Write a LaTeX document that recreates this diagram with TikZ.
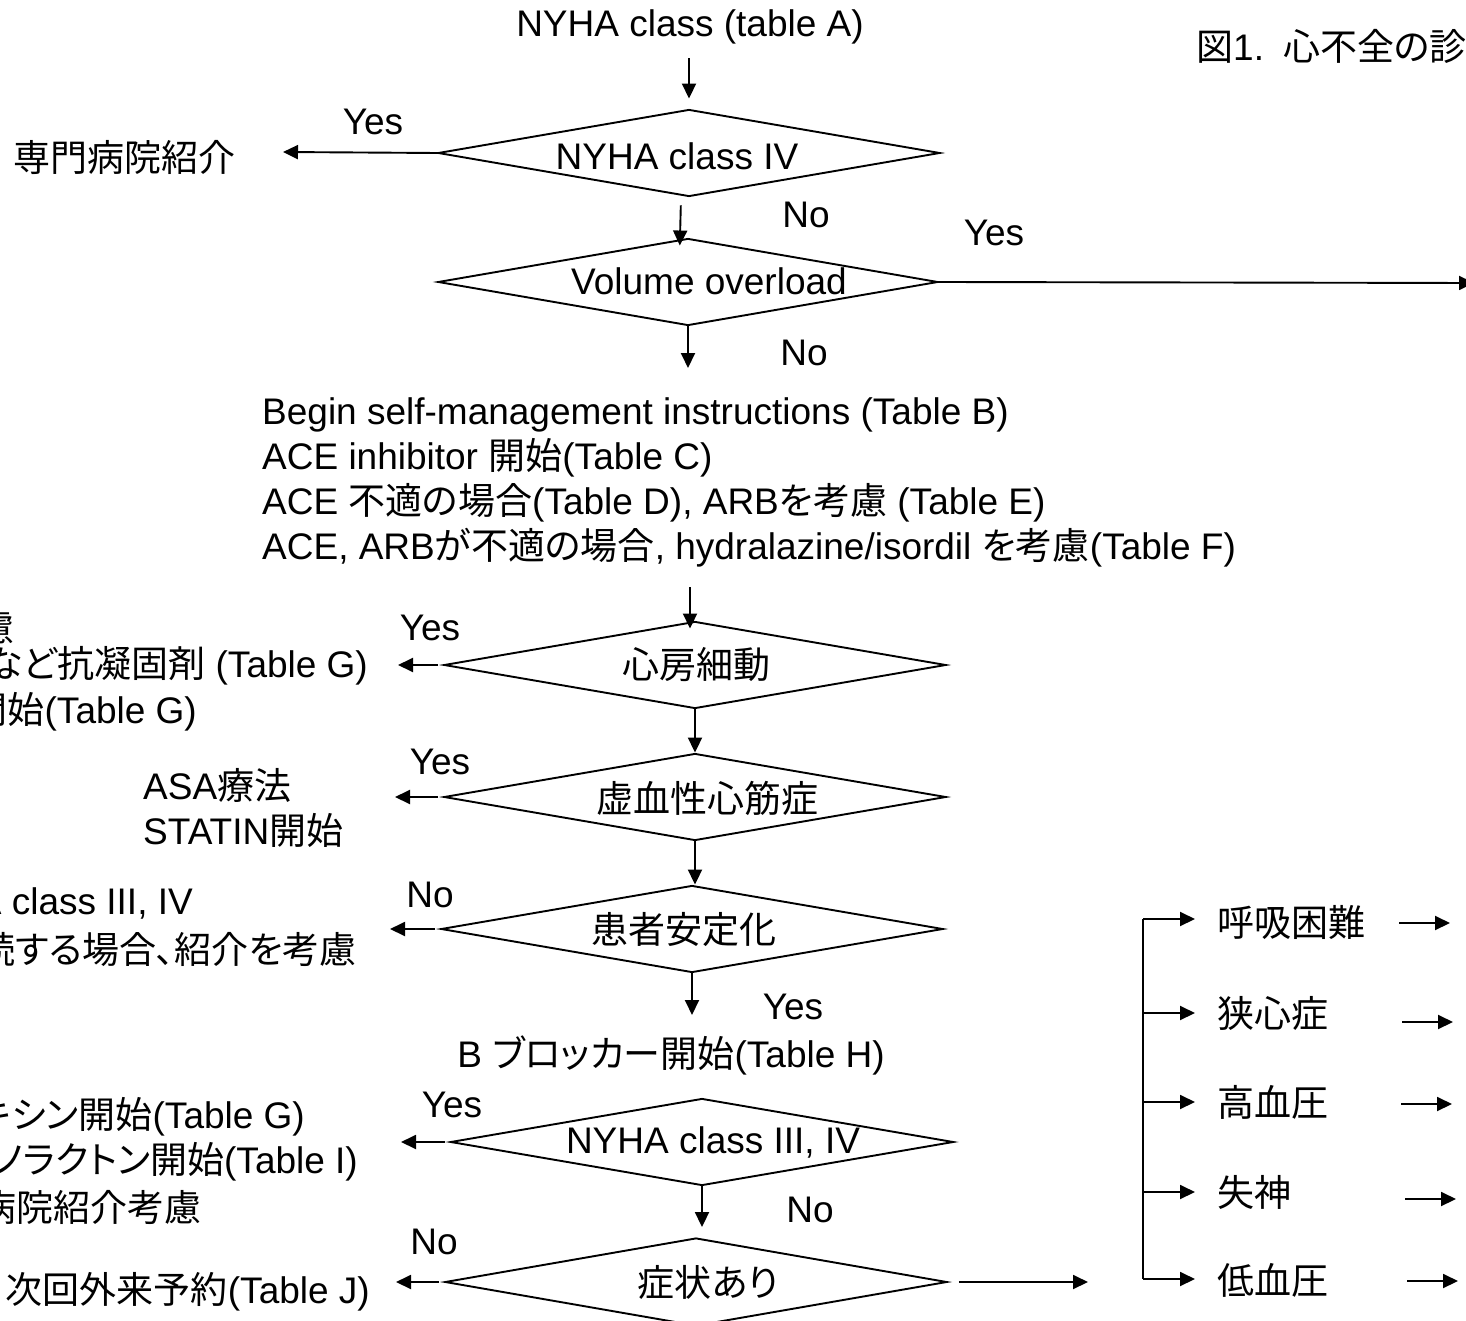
\documentclass[tikz,border=0pt]{standalone}
\usepackage{fontspec}
\setmainfont{Liberation Sans}
\newfontfamily\jp{Noto Sans CJK JP}[RawFeature=+palt]
\usetikzlibrary{arrows.meta,shapes.geometric,calc}
\begin{document}
\begin{tikzpicture}[x=1pt,y=-1pt,
  txt/.style={inner sep=0pt, font=\fontsize{37}{45}\selectfont},
  dia/.style={draw, diamond, line width=1.9pt, inner sep=0pt, minimum width=502pt, minimum height=87pt},
  arr/.style={draw, line width=1.9pt, -{Triangle[length=15pt,width=14pt]}},
  ln/.style={draw, line width=1.9pt}]
\path[use as bounding box, clip] (0,0) rectangle (1466,1321);

% title and top
\node[txt] (top) at (690,27) {NYHA class (table A)};
\node[txt, anchor=west] (ttl) at (1196,46) {{\jp 図}1.\hspace{19pt}{\jp 心不全の診}};

% diamonds
\node[dia] (d1) at (689,153) {};
\node[dia, minimum width=500pt] (d2) at (688,282) {};
\node[dia] (d3) at (695,665) {};
\node[dia] (d4) at (695,797) {};
\node[dia] (d5) at (692,929) {};
\node[dia, minimum width=503pt] (d6) at (702,1142) {};
\node[dia, minimum height=88pt] (d7) at (696,1282) {};

% diamond texts
\node[txt] (t1) at (677,156) {NYHA class IV};
\node[txt] (t2) at (709,281) {Volume overload};
\node[txt] (t3) at (696,665) {\jp 心房細動};
\node[txt] (t4) at (707,798) {\jp 虚血性心筋症};
\node[txt] (t5) at (684,930) {\jp 患者安定化};
\node[txt] (t6) at (713,1142) {NYHA class III, IV};
\node[txt] (t7) at (708,1282) {\jp 症状あり};

% other texts
\node[txt, anchor=east] (sp) at (236,157) {\jp 専門病院紹介};
\node[txt, anchor=west, align=left] (blk) at (262,482) {Begin self-management instructions (Table B)\\
ACE inhibitor {\jp 開始}(Table C)\\
ACE {\jp 不適の場合}(Table D), ARB{\jp を考慮} (Table E)\\
ACE, ARB{\jp が不適の場合}, hydralazine/isordil {\jp を考慮}(Table F)};

\node[txt, anchor=east] (af1) at (15,627) {\jp 慮};
\node[txt, anchor=east] (af2) at (368,666) {{\jp など抗凝固剤} (Table G)};
\node[txt, anchor=east] (af3) at (197,712) {{\jp 開始}(Table G)};

\node[txt, anchor=west, align=left] (ih) at (143,808) {ASA{\jp 療法}\\STATIN{\jp 開始}};

\node[txt, anchor=east] (st1) at (193,903) {NYHA class III, IV};
\node[txt, anchor=east] (st2) at (357,949) {\jp 続する場合、紹介を考慮};

\node[txt] (bb) at (671,1055) {B {\jp ブロッカー開始}(Table H)};

\node[txt, anchor=east] (ny1) at (305,1117) {{\jp キシン開始}(Table G)};
\node[txt, anchor=east] (ny2) at (358,1162) {{\jp ノラクトン開始}(Table I)};
\node[txt, anchor=east] (ny3) at (202,1207) {\jp 病院紹介考慮};
\node[txt, anchor=east] (nx) at (370,1292) {{\jp 次回外来予約}(Table J)};

% symptoms
\node[txt, anchor=west] (s1) at (1217,922) {\jp 呼吸困難};
\node[txt, anchor=west] (s2) at (1217,1013) {\jp 狭心症};
\node[txt, anchor=west] (s3) at (1217,1102) {\jp 高血圧};
\node[txt, anchor=west] (s4) at (1217,1192) {\jp 失神};
\node[txt, anchor=west] (s5) at (1217,1280) {\jp 低血圧};

% yes/no labels
\node[txt] (y1) at (373,122) {Yes};
\node[txt] (n1) at (806,215) {No};
\node[txt] (y2) at (994,233) {Yes};
\node[txt] (n2) at (804,353) {No};
\node[txt] (y3) at (430,628) {Yes};
\node[txt] (y4) at (440,762) {Yes};
\node[txt] (n5) at (430,895) {No};
\node[txt] (y5) at (793,1007) {Yes};
\node[txt] (y6) at (452,1105) {Yes};
\node[txt] (n6) at (810,1210) {No};
\node[txt] (n7) at (434,1242) {No};

% coordinates for free ends
\coordinate (l1) at (283,152);
\coordinate (l3) at (398,665);
\coordinate (l4) at (395,797);
\coordinate (l5) at (390,929);
\coordinate (l6) at (401,1142);
\coordinate (l7) at (396,1282);
\coordinate (r2) at (1474,283);
\coordinate (r7) at (1088,1282);
\coordinate (a3e) at (692,368);
\coordinate (a4s) at (690,587);
\coordinate (a7e) at (695,1015);
\coordinate (vt) at (1143,919);
\coordinate (vb) at (1143,1279);
\coordinate (e1a) at (1399,923); \coordinate (e1b) at (1450,923);
\coordinate (e2a) at (1402,1022); \coordinate (e2b) at (1453,1022);
\coordinate (e3a) at (1401,1104); \coordinate (e3b) at (1452,1104);
\coordinate (e4a) at (1405,1199); \coordinate (e4b) at (1456,1199);
\coordinate (e5a) at (1407,1281); \coordinate (e5b) at (1458,1281);

% vertical flow arrows
\draw[arr, shorten <=14pt, shorten >=10pt] (top.south -| d1.north) -- (d1.north);
\draw[arr, shorten <=8pt, shorten >=-8pt] ([xshift=-8pt]d1.south) -- ([xshift=-8pt]d2.north);
\draw[arr] (d2.south) -- (d2.south |- a3e);
\draw[arr, shorten >=-8pt] (a4s) -- (a4s |- d3.north);
\draw[arr] (d3.south) -- (d3.south |- d4.north);
\draw[arr] (d4.south) -- (d4.south |- d5.north);
\draw[arr] (d5.south) -- (d5.south |- a7e);
\draw[arr, shorten >=10pt] (d6.south) -- (d6.south |- d7.north);

% side arrows
\draw[arr] (d1.west) -- (l1);
\draw[arr, shorten <=5pt] (d3.west) -- (l3);
\draw[arr, shorten <=5pt] (d4.west) -- (l4);
\draw[arr, shorten <=5pt] (d5.west) -- (l5);
\draw[arr, shorten <=5pt] (d6.west) -- (l6);
\draw[arr, shorten <=5pt] (d7.west) -- (l7);
\draw[arr] (d2.east) -- (r2);
\draw[arr, shorten <=11pt] (d7.east) -- (r7);

% symptom branches
\draw[ln] (vt) -- (vb);
\draw[arr, shorten >=22pt] (vt) -- (vt -| s1.west);
\draw[arr, shorten >=22pt] (s2.west -| vt) -- (s2.west);
\draw[arr, shorten >=22pt] (s3.west -| vt) -- (s3.west);
\draw[arr, shorten >=22pt] (s4.west -| vt) -- (s4.west);
\draw[arr, shorten >=22pt] (vb) -- (vb -| s5.west);

\draw[arr] (e1a) -- (e1b);
\draw[arr] (e2a) -- (e2b);
\draw[arr] (e3a) -- (e3b);
\draw[arr] (e4a) -- (e4b);
\draw[arr] (e5a) -- (e5b);
\end{tikzpicture}
\end{document}
